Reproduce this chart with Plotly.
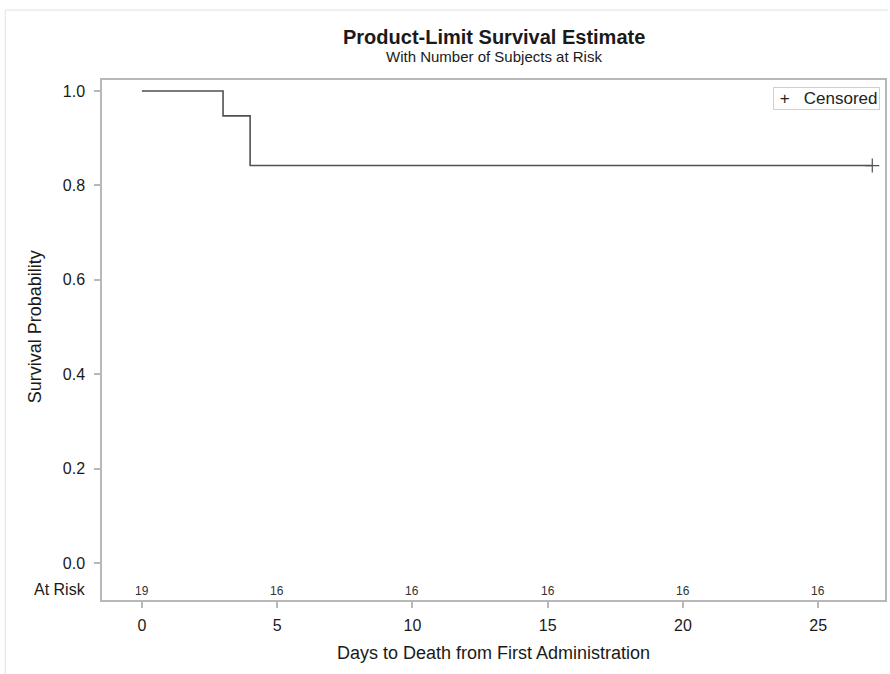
import plotly.graph_objects as go

# Data
step_days = [0, 3, 3, 4, 4, 27]
step_surv = [1.0, 1.0, 18/19, 18/19, 16/19, 16/19]
censor_days = [27]
censor_surv = [16/19]
risk_days = [0, 5, 10, 15, 20, 25]
risk_counts = [19, 16, 16, 16, 16, 16]
y_ticks = [0.0, 0.2, 0.4, 0.6, 0.8, 1.0]
x_ticks = [0, 5, 10, 15, 20, 25]

FONT = "Liberation Sans, Arial, sans-serif"
LINE = "#505050"
AX = "#b8b8b8"
TXT = "#1a1a1a"

W, H = 890, 674
L, R, T, B = 102, 3, 80, 74
PW, PH = W - L - R, H - T - B

fig = go.Figure()
fig.add_trace(go.Scatter(x=step_days, y=step_surv, mode="lines",
                         line=dict(color=LINE, width=1.6), showlegend=False,
                         hoverinfo="skip"))
fig.add_trace(go.Scatter(x=censor_days, y=censor_surv, mode="markers", name="Censored",
                         showlegend=False,
                         marker=dict(symbol="cross-thin", size=10,
                                     line=dict(color=LINE, width=1.2), color=LINE)))

# at-risk row
for d, n in zip(risk_days, risk_counts):
    fig.add_annotation(x=d, y=-0.059, xref="x", yref="y", text=str(n), showarrow=False,
                       yanchor="middle", font=dict(family=FONT, size=12, color="#333333"))
fig.add_annotation(x=(88 - L) / PW, y=-0.055, xref="paper", yref="y", xanchor="right",
                   yanchor="middle", text="At Risk", showarrow=False,
                   font=dict(family=FONT, size=16, color=TXT))

# titles
fig.add_annotation(x=0.5, y=1, xref="paper", yref="paper", yshift=T - 37, yanchor="middle",
                   text="<b>Product-Limit Survival Estimate</b>", showarrow=False,
                   font=dict(family=FONT, size=20, color=TXT))
fig.add_annotation(x=0.5, y=1, xref="paper", yref="paper", yshift=T - 56, yanchor="middle",
                   text="With Number of Subjects at Risk", showarrow=False,
                   font=dict(family=FONT, size=15, color=TXT))
fig.add_annotation(x=(35 - L) / PW, y=0.5, xref="paper", yref="y", xanchor="center",
                   yanchor="middle", text="Survival Probability", textangle=-90,
                   showarrow=False, font=dict(family=FONT, size=18, color=TXT))
fig.add_annotation(x=0.5, y=0, xref="paper", yref="paper", yshift=-(653 - (T + PH)),
                   yanchor="middle", text="Days to Death from First Administration",
                   showarrow=False, font=dict(family=FONT, size=18, color=TXT))

# legend box (drawn as bordered annotation)
fig.add_annotation(x=(882 - L) / PW, y=1 - (87 - T) / PH, xref="paper", yref="paper",
                   xanchor="right", yanchor="top",
                   text="&nbsp;+&nbsp;&nbsp;&nbsp;Censored", showarrow=False, align="left",
                   bordercolor="#d0d0d0", borderwidth=1, borderpad=1, bgcolor="white",
                   font=dict(family=FONT, size=17, color="#222222"))

fig.update_layout(
    width=W, height=H,
    margin=dict(l=L, r=R, t=T, b=B),
    paper_bgcolor="white", plot_bgcolor="white",
    font=dict(family=FONT, color=TXT),
    showlegend=False,
    xaxis=dict(range=[-1.475, 27.47], tickvals=x_ticks, ticks="outside", ticklen=6,
               tickcolor=AX, tickwidth=1.5, showline=True, linecolor=AX, linewidth=1.5,
               mirror=True, showgrid=False, zeroline=False, ticklabelstandoff=4,
               tickfont=dict(family=FONT, size=16, color=TXT)),
    yaxis=dict(range=[-0.078, 1.0233], tickvals=y_ticks, tickformat=".1f", ticks="outside",
               ticklen=6, tickcolor=AX, tickwidth=1.5, showline=True, linecolor=AX,
               linewidth=1.5, mirror=True, showgrid=False, zeroline=False,
               ticklabelstandoff=6,
               tickfont=dict(family=FONT, size=16, color=TXT)),
)

# faint page border
fig.add_shape(type="line", xref="paper", yref="paper", x0=(5 - L) / PW, x1=(W - L) / PW,
              y0=1 + (T - 10) / PH, y1=1 + (T - 10) / PH, line=dict(color="#e2e2e2", width=1))
fig.add_shape(type="line", xref="paper", yref="paper", x0=(5 - L) / PW, x1=(5 - L) / PW,
              y0=-B / PH, y1=1 + (T - 10) / PH, line=dict(color="#e2e2e2", width=1))

fig.write_html("out.html", config={"displayModeBar": False},
               post_script="document.body.style.margin='0px';")
